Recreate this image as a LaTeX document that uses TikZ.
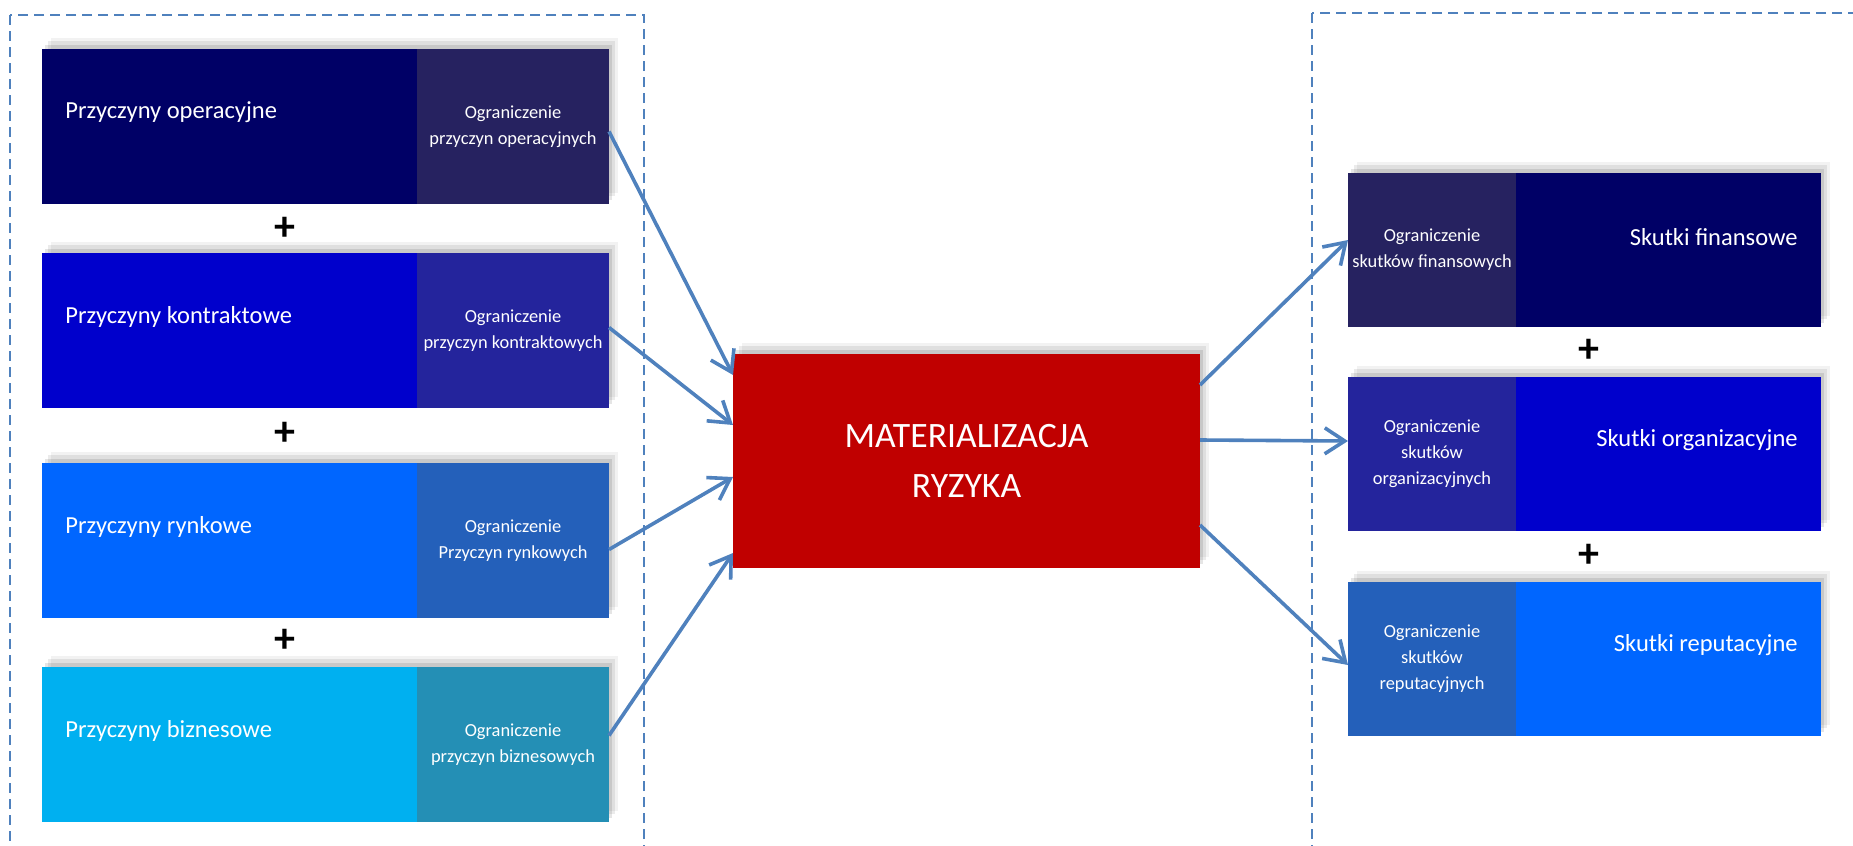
\documentclass[tikz,border=0pt]{standalone}
\usepackage{fontspec}
\setmainfont{Carlito}
\usepackage{xcolor}
\usepackage{tikz}
\usetikzlibrary{calc, positioning, arrows.meta, shadows}

\definecolor{granat}{HTML}{000066}
\definecolor{granatB}{HTML}{262260}
\definecolor{niebieski}{HTML}{0000CC}
\definecolor{niebieskiB}{HTML}{24249C}
\definecolor{blekit}{HTML}{0066FF}
\definecolor{blekitB}{HTML}{2460BA}
\definecolor{lazur}{HTML}{00B0F0}
\definecolor{lazurB}{HTML}{248FB5}
\definecolor{czerwien}{HTML}{C00000}
\definecolor{strzal}{HTML}{4F81BD}

\begin{document}
\begin{tikzpicture}[x=0.5pt, y=-0.5pt, >={Straight Barb[length=10pt,width=13pt]},
    cien/.style={outer sep=0pt,
        drop shadow={shadow xshift=1.5pt, shadow yshift=2pt, opacity=.10, fill=black},
        drop shadow={shadow xshift=3pt, shadow yshift=4pt, opacity=.08, fill=black},
        drop shadow={shadow xshift=4.5pt, shadow yshift=5.5pt, opacity=.05, fill=black}},
    przyczyna/.style={cien, minimum width=187.5pt, minimum height=77.5pt, inner sep=0pt},
    ogr/.style={cien, minimum width=96pt, minimum height=77.5pt, inner sep=0pt, text=white, align=center, font=\fontsize{9.2}{13}\selectfont},
    skutek/.style={cien, minimum width=152.5pt, minimum height=77pt, inner sep=0pt},
    ogrP/.style={cien, minimum width=84pt, minimum height=77pt, inner sep=0pt, text=white, align=center, font=\fontsize{9.2}{13}\selectfont},
    napis/.style={text=white, inner sep=0pt, font=\fontsize{12.25}{15}\selectfont},
    plus/.style={inner sep=0pt, font=\fontsize{21}{21}\selectfont\bfseries},
    strzalka/.style={->, strzal, line width=1.8pt},
    ramka/.style={strzal, line width=0.75pt, dash pattern=on 5pt off 3pt}]
    \useasboundingbox (0,0) rectangle (1853,846);

    % --- Ramki przerywane ---
    \draw[ramka] (10,15) rectangle (644,870);
    \draw[ramka] (1312,13) rectangle (1880,870);

    % --- Przyczyny (lewa strona) ---
    \node[przyczyna, fill=granat, anchor=north west] (p1) at (42,49) {};
    \node[ogr, fill=granatB, right=0pt of p1] (o1) {Ograniczenie\\przyczyn operacyjnych};
    \node[napis, anchor=west] (t1) at ($(p1.west)+(23,-14)$) {Przyczyny operacyjne};

    \node[przyczyna, fill=niebieski, anchor=north west] (p2) at (42,253) {};
    \node[ogr, fill=niebieskiB, right=0pt of p2] (o2) {Ograniczenie\\przyczyn kontraktowych};
    \node[napis, anchor=west] (t2) at ($(p2.west)+(23,-14)$) {Przyczyny kontraktowe};

    \node[przyczyna, fill=blekit, anchor=north west] (p3) at (42,463) {};
    \node[ogr, fill=blekitB, right=0pt of p3] (o3) {Ograniczenie\\Przyczyn rynkowych};
    \node[napis, anchor=west] (t3) at ($(p3.west)+(23,-14)$) {Przyczyny rynkowe};

    \node[przyczyna, fill=lazur, anchor=north west] (p4) at (42,667) {};
    \node[ogr, fill=lazurB, right=0pt of p4] (o4) {Ograniczenie\\przyczyn biznesowych};
    \node[napis, anchor=west] (t4) at ($(p4.west)+(23,-14)$) {Przyczyny biznesowe};

    \node[plus] (plus1) at (285,229) {+};
    \node[plus] (plus2) at (285,434) {+};
    \node[plus] (plus3) at (285,641) {+};

    % --- Materializacja ryzyka ---
    \node[cien, fill=czerwien, text=white, minimum width=233.5pt, minimum height=107pt, align=center,
          font=\fontsize{17.85}{25}\selectfont] (m) at (966.5,461) {MATERIALIZACJA\\RYZYKA};

    % --- Skutki (prawa strona) ---
    \node[ogrP, fill=granatB, anchor=north west] (q1) at (1348,173) {Ograniczenie\\skutków finansowych};
    \node[skutek, fill=granat, right=0pt of q1] (s1) {};
    \node[napis, anchor=east] (u1) at ($(s1.east)+(-23,-13)$) {Skutki finansowe};

    \node[ogrP, fill=niebieskiB, anchor=north west] (q2) at (1348,377) {Ograniczenie\\skutków\\organizacyjnych};
    \node[skutek, fill=niebieski, right=0pt of q2] (s2) {};
    \node[napis, anchor=east] (u2) at ($(s2.east)+(-23,-14)$) {Skutki organizacyjne};

    \node[ogrP, fill=blekitB, anchor=north west] (q3) at (1348,582) {Ograniczenie\\skutków\\reputacyjnych};
    \node[skutek, fill=blekit, right=0pt of q3] (s3) {};
    \node[napis, anchor=east] (u3) at ($(s3.east)+(-23,-14)$) {Skutki reputacyjne};

    \node[plus] (plus4) at (1589,351) {+};
    \node[plus] (plus5) at (1589,556) {+};

    % --- Strzałki ---
    \draw[strzalka] ($(o1.east)+(0,5)$) -- ($(m.west)+(0,-86)$);
    \draw[strzalka] ($(o2.east)+(0,-3)$) -- ($(m.west)+(0,-36)$);
    \draw[strzalka] ($(o3.east)+(0,9)$) -- ($(m.west)+(0,16)$);
    \draw[strzalka] ($(o4.east)+(0,-9)$) -- ($(m.west)+(0,92)$);
    \draw[strzalka] ($(m.east)+(0,-76)$) -- ($(q1.west)+(0,-10)$);
    \draw[strzalka] ($(m.east)+(0,-21)$) -- ($(q2.west)+(0,-13)$);
    \draw[strzalka] ($(m.east)+(0,64)$) -- ($(q3.west)+(0,6)$);
\end{tikzpicture}
\end{document}
